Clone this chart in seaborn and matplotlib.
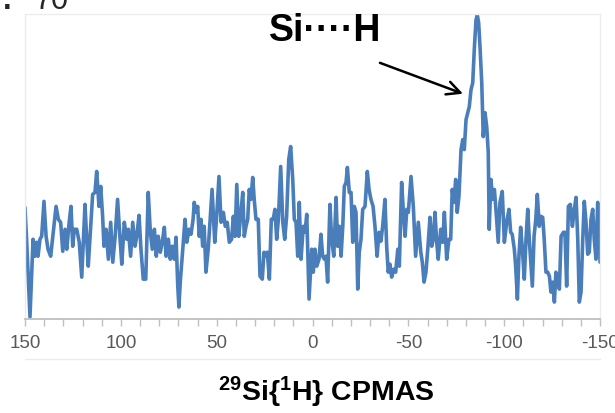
import numpy as np
import matplotlib
matplotlib.use("Agg")
import matplotlib.pyplot as plt
import seaborn as sns
from matplotlib.lines import Line2D

# chemical shift (ppm) and signal (arb. units)
ppm = [150.0, 149.1, 147.4, 145.8, 144.8, 143.9, 143.2, 142.2, 141.3, 140.1,
       139.0, 138.0, 136.6, 135.5, 133.8, 132.6, 131.4, 130.3, 129.1, 128.2,
       126.9, 126.0, 125.1, 124.3, 123.0, 121.7, 120.4, 118.7, 117.8, 117.0,
       115.7, 114.7, 113.5, 112.6, 111.4, 110.5, 109.5, 108.8, 107.7, 106.5,
       105.3, 104.2, 103.0, 101.7, 100.4, 99.5, 98.2, 96.9, 96.1, 94.9,
       93.8, 92.6, 91.7, 90.5, 89.5, 88.3, 87.0, 85.7, 84.6, 83.6,
       82.5, 81.5, 80.5, 79.4, 78.4, 77.3, 76.4, 75.2, 74.2, 73.2,
       72.1, 71.2, 70.3, 69.7, 69.0, 67.7, 66.5, 65.6, 64.4, 63.4,
       62.3, 61.7, 60.8, 59.9, 59.1, 58.2, 57.3, 56.5, 55.6, 54.4,
       52.4, 51.0, 50.0, 48.8, 47.7, 46.5, 45.5, 44.5, 43.4, 42.2,
       41.3, 40.4, 39.5, 38.5, 37.5, 36.4, 35.6, 34.7, 33.8, 33.0,
       32.1, 31.2, 30.4, 29.5, 28.3, 27.4, 26.2, 25.3, 24.4, 23.6,
       22.5, 21.5, 20.5, 19.6, 18.7, 17.8, 16.6, 15.5, 14.5, 13.5,
       12.4, 11.4, 10.3, 9.5, 8.6, 7.7, 6.9, 6.0, 4.8, 3.9,
       3.0, 1.8, 0.4, -0.4, -1.3, -2.2, -3.4, -4.4, -5.3, -6.2,
       -7.0, -7.9, -9.1, -10.0, -11.1, -12.3, -13.1, -14.0, -14.9, -15.8,
       -16.6, -17.5, -18.2, -19.2, -20.1, -21.0, -21.8, -22.7, -23.6, -24.4,
       -25.3, -26.2, -27.4, -28.6, -29.5, -30.5, -31.6, -32.6, -33.7, -34.7,
       -35.7, -36.6, -37.8, -38.7, -39.5, -40.4, -41.3, -42.4, -43.4, -44.5,
       -45.3, -46.5, -47.5, -48.3, -49.2, -50.0, -51.4, -52.6, -53.8, -55.2,
       -56.5, -57.3, -58.2, -59.2, -60.4, -61.3, -62.2, -63.0, -63.9, -64.8,
       -65.6, -66.9, -67.9, -68.8, -70.0, -71.2, -72.1, -72.9, -73.8, -74.7,
       -75.5, -76.4, -77.5, -78.4, -79.2, -80.1, -81.0, -81.8, -82.7, -83.6,
       -84.4, -85.3, -86.0, -86.7, -87.4, -88.3, -89.1, -90.0, -90.9, -91.7,
       -92.2, -93.1, -94.0, -94.9, -95.7, -96.9, -97.8, -99.0, -100.1, -101.3,
       -102.5, -103.4, -104.2, -105.3, -106.0, -106.9, -107.7, -108.6, -109.5, -110.5,
       -111.4, -112.3, -113.1, -114.0, -114.7, -115.6, -116.5, -117.3, -118.3, -119.2,
       -120.1, -120.9, -121.8, -122.7, -123.6, -124.4, -125.3, -126.2, -127.0, -127.9,
       -128.8, -129.7, -130.9, -131.7, -132.6, -133.5, -134.5, -135.6, -136.6, -137.5,
       -138.4, -139.2, -140.1, -141.0, -141.8, -142.7, -143.6, -144.4, -145.3, -146.2,
       -147.0, -147.9, -148.8, -149.6, -150.0]
signal = [112, 77, 2, 80, 63, 77, 63, 80, 83, 118,
          83, 70, 63, 83, 113, 100, 97, 68, 90, 70,
          98, 113, 73, 90, 90, 77, 42, 115, 80, 53,
          93, 125, 127, 148, 113, 133, 103, 73, 90, 60,
          97, 57, 82, 120, 80, 55, 97, 80, 90, 63,
          97, 73, 83, 104, 70, 40, 40, 127, 87, 70,
          90, 63, 83, 67, 77, 92, 63, 80, 60, 73,
          60, 82, 33, 12, 37, 70, 100, 77, 90, 85,
          100, 117, 107, 113, 83, 100, 73, 93, 47, 70,
          130, 77, 103, 143, 97, 107, 93, 97, 77, 80,
          103, 83, 135, 83, 103, 127, 83, 93, 100, 130,
          120, 142, 120, 100, 100, 43, 40, 67, 63, 67,
          40, 100, 100, 110, 80, 100, 153, 97, 80, 103,
          160, 173, 140, 100, 97, 63, 117, 60, 93, 87,
          105, 20, 70, 47, 70, 53, 60, 85, 63, 60,
          63, 37, 115, 80, 63, 122, 73, 93, 63, 93,
          133, 137, 152, 127, 127, 77, 113, 107, 30, 67,
          80, 110, 113, 148, 130, 120, 113, 93, 63, 87,
          78, 93, 120, 73, 47, 55, 42, 50, 47, 70,
          53, 137, 105, 83, 110, 107, 143, 113, 63, 97,
          67, 57, 37, 47, 77, 102, 73, 80, 107, 77,
          60, 90, 77, 107, 60, 80, 80, 130, 117, 140,
          107, 123, 170, 180, 170, 200, 207, 213, 230, 237,
          270, 300, 305, 297, 273, 237, 183, 207, 193, 167,
          90, 140, 120, 130, 110, 77, 117, 128, 77, 97,
          110, 87, 85, 70, 53, 20, 63, 92, 70, 40,
          80, 110, 80, 53, 33, 83, 100, 125, 93, 103,
          102, 80, 47, 47, 43, 27, 37, 17, 47, 40,
          30, 83, 87, 87, 33, 113, 115, 93, 110, 122,
          80, 17, 27, 80, 118, 97, 65, 67, 100, 110,
          80, 60, 117, 100, 57]
xtick_vals = [150, 100, 50, 0, -50, -100, -150]

sns.set_theme(style="white")
plt.rcParams["font.family"] = ["Liberation Sans", "DejaVu Sans"]
plt.rcParams["mathtext.fontset"] = "custom"
plt.rcParams["mathtext.rm"] = "Liberation Sans:bold"
plt.rcParams["mathtext.default"] = "rm"

W, H = 615, 414
fig = plt.figure(figsize=(W / 100, H / 100), dpi=100)
ax = fig.add_axes([25 / W, 1 - 320 / H, 575 / W, 305 / H])

sns.lineplot(x=ppm, y=signal, ax=ax, color="#4a7ebb", lw=2.6, legend=False,
             solid_joinstyle="round", solid_capstyle="round")

ax.set_xlim(150, -150)
ax.set_ylim(0, 306)
ax.set_yticks([])
ax.set_xticks(xtick_vals)
ax.set_xticks(np.arange(150, -151, -10), minor=True)
ax.set_xticklabels([str(v) for v in xtick_vals])
ax.tick_params(axis="x", which="both", direction="out", length=5, width=1,
               color="#bfbfbf", bottom=True)
ax.tick_params(axis="x", which="major", labelsize=13.5, labelcolor="#595959", pad=6)
for s in ["top", "left", "right"]:
    ax.spines[s].set_color("#ececec")
    ax.spines[s].set_linewidth(1)
ax.spines["bottom"].set_color("#bfbfbf")
ax.spines["bottom"].set_linewidth(1.3)
ax.set_xlabel("")
ax.set_ylabel("")

# label and arrow for the peak
ax.text(-6.5, 290, "Si····H", ha="center", va="center", fontsize=27,
        fontweight="bold", color="black")
ax.annotate("", xy=(-78.5, 226), xytext=(-35.2, 257),
            arrowprops=dict(arrowstyle="->", color="black", lw=1.8,
                            mutation_scale=24, shrinkA=0, shrinkB=0))

fig.text(326 / W, 1 - 392 / H, r"$^{29}$Si{$^{1}$H} CPMAS", ha="center",
         va="center", fontsize=20.5, fontweight="bold", color="black")

# faint frame line below tick labels and clipped text at the top
fig.add_artist(Line2D([25 / W, 600 / W], [1 - 360 / H] * 2, color="#ececec", lw=1))
fig.text(3 / W, 1 - 9 / H, ".", fontsize=22, fontweight="bold", va="baseline")
fig.text(34 / W, 1 - 9 / H, "70", fontsize=22, va="baseline")

fig.savefig("out.png", dpi=100, facecolor="white")
